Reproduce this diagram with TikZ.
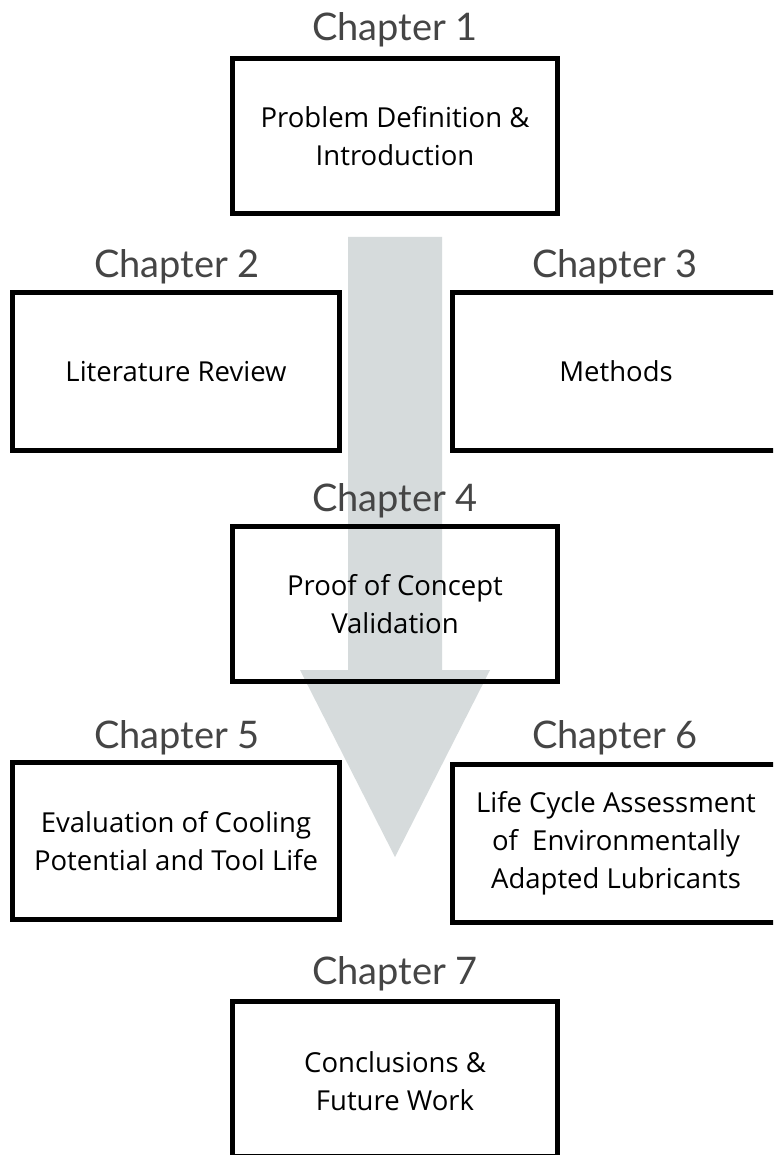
\documentclass[tikz,border=0pt]{standalone}
\usepackage{fontspec}
\setmainfont{Open Sans}
\newfontfamily\labelfont{Lato}
\definecolor{arrowgray}{HTML}{D6DBDC}
\definecolor{labelgray}{HTML}{454545}
\begin{document}
\begin{tikzpicture}[x=1pt,y=-1pt,
  chapbox/.style={draw=black, line width=5pt, rectangle, align=center,
    minimum width=325pt, minimum height=155pt, inner sep=0pt,
    font=\fontsize{27.5}{38}\selectfont},
  chaplabel/.style={anchor=base, inner sep=0pt, text=labelgray,
    font=\labelfont\fontsize{38}{40}\selectfont}]
\useasboundingbox (0,0) rectangle (773,1155);
\clip (0,0) rectangle (773,1155);
\fill[white] (0,0) rectangle (773,1155);
% big arrow
\fill[arrowgray] (348,237) -- (442,237) -- (442,670) -- (490,670)
  -- (395,857) -- (300,670) -- (348,670) -- cycle;
% boxes
\node[chapbox] (c1) at (395,136) {Problem Definition \&\\Introduction};
\node[chapbox, minimum width=327pt, minimum height=158pt] (c2) at (176,371.5) {Literature Review};
\node[chapbox, minimum width=327pt, minimum height=158pt] (c3) at (616,371.5) {Methods};
\node[chapbox] (c4) at (395,604) {Proof of Concept\\Validation};
\node[chapbox, minimum width=327pt, minimum height=157pt] (c5) at (176,841) {Evaluation of Cooling\\Potential and Tool Life};
\node[chapbox, minimum width=327pt, minimum height=158pt] (c6) at (616,843) {Life Cycle Assessment\\of\ \ Environmentally\\Adapted Lubricants};
\node[chapbox, minimum height=155pt] (c7) at (395,1079) {};
\node[align=center, font=\fontsize{27.5}{38}\selectfont, inner sep=0pt] (c7t) at (395,1081) {Conclusions \&\\Future Work};
% labels
\node[chaplabel] (l1) at (395,41) {Chapter 1};
\node[chaplabel] (l2) at (177,277) {Chapter 2};
\node[chaplabel] (l3) at (615,277) {Chapter 3};
\node[chaplabel] (l4) at (395,511) {Chapter 4};
\node[chaplabel] (l5) at (177,748) {Chapter 5};
\node[chaplabel] (l6) at (615,748) {Chapter 6};
\node[chaplabel] (l7) at (395,984) {Chapter 7};
\end{tikzpicture}
\end{document}
